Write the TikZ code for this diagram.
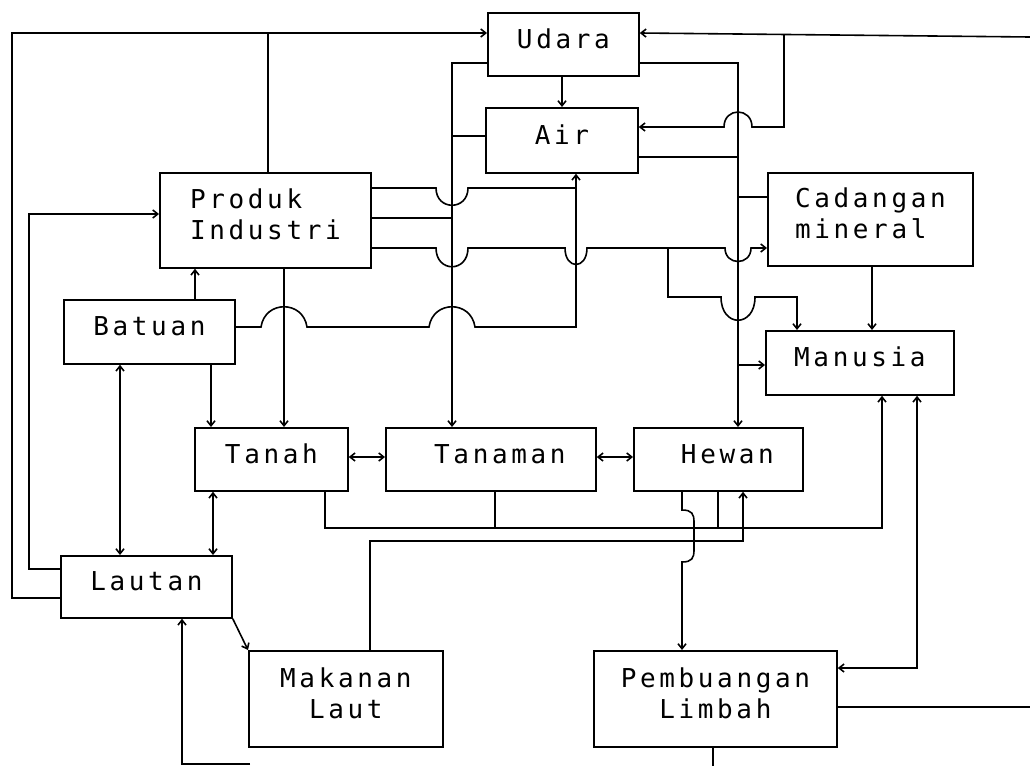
\documentclass[tikz,border=0pt]{standalone}
\usepackage{fontspec}
\usetikzlibrary{arrows.meta}
\newfontfamily\dm[LetterSpace=14]{DejaVu Sans Mono}
\begin{document}
\begin{tikzpicture}[x=1bp,y=-1bp,
  box/.style={draw,line width=1.8bp,anchor=north west,inner sep=0pt,
    font=\dm\fontsize{26bp}{31bp}\selectfont},
  one/.style={box,text height=19bp,text depth=11bp},
  two/.style={box,text depth=12bp},
  ln/.style={line width=1.6bp},
  arr/.style={ln,-{Straight Barb[length=5bp,width=8bp]}},
  darr/.style={ln,{Straight Barb[length=5bp,width=8bp]}-{Straight Barb[length=5bp,width=8bp]}}]
\useasboundingbox[fill=white] (0,0) rectangle (1030,766);
% boxes
\node[one,minimum width=151bp,minimum height=63bp] (udara) at (487,12) {Udara};
\node[one,minimum width=152bp,minimum height=65bp] (air) at (485,107) {Air};
\node[two,minimum width=211bp,minimum height=95bp,align=left] (produk) at (159,172) {Produk\\Industri};
\node[two,minimum width=205bp,minimum height=93bp,align=left] (cadangan) at (767,172) {Cadangan\\mineral};
\node[one,minimum width=171bp,minimum height=64bp] (batuan) at (63,299) {Batuan};
\node[one,minimum width=188bp,minimum height=64bp] (manusia) at (765,330) {Manusia};
\node[one,minimum width=153bp,minimum height=63bp] (tanah) at (194,427) {Tanah};
\node[one,minimum width=210bp,minimum height=63bp] (tanaman) at (385,427) {\hspace*{18bp}Tanaman};
\node[one,minimum width=169bp,minimum height=63bp] (hewan) at (633,427) {\hspace*{18bp}Hewan};
\node[one,minimum width=171bp,minimum height=62bp] (lautan) at (60,555) {Lautan};
\node[two,minimum width=194bp,minimum height=96bp,align=center] (makanan) at (248,650) {Makanan\\Laut};
\node[two,minimum width=243bp,minimum height=96bp,align=center] (pembuangan) at (593,650) {Pembuangan\\Limbah};
% junction coordinates
\coordinate (jtop) at (268,33);
\coordinate (jprod) at (668,248);
\coordinate (jbus) at (738,365);
\coordinate (jright) at (784,35);
\coordinate (edgeR1) at (1030,37);
\coordinate (edgeR2) at (1030,707);
\coordinate (edgeB) at (713,766);
\coordinate (edgeBL) at (250,764);
% Lautan -> Udara (outer loop)
\draw[arr] (lautan.west |- 0,598) -- (12,598) -- (12,33) -- (udara.west |- 0,33);
\draw[ln] (produk.north -| 268,0) -- (jtop);
% Lautan -> Produk Industri
\draw[arr] (lautan.west |- 0,569) -- (29,569) -- (29,214) -- (produk.west |- 0,214);
% Batuan -> Produk, Batuan -> Tanah, Produk -> Tanah
\draw[arr] (batuan.north -| 195,0) -- (produk.south -| 195,0);
\draw[arr] (batuan.south -| 211,0) -- (tanah.north -| 211,0);
\draw[arr] (produk.south -| 284,0) -- (tanah.north -| 284,0);
% Batuan <-> Lautan, Tanah <-> Lautan
\draw[darr] (batuan.south -| 120,0) -- (lautan.north -| 120,0);
\draw[darr] (tanah.south -| 213,0) -- (lautan.north -| 213,0);
% Tanah <-> Tanaman <-> Hewan
\draw[darr] (tanah.east |- 0,457) -- (tanaman.west |- 0,457);
\draw[darr] (tanaman.east |- 0,457) -- (hewan.west |- 0,457);
% Udara -> Air
\draw[arr] (udara.south -| 562,0) -- (air.north -| 562,0);
% Udara/Air/Produk -> Tanaman (bus x=452)
\draw[arr] (udara.west |- 0,63) -- (452,63) -- (tanaman.north -| 452,0);
\draw[ln] (air.west |- 0,136) -- (452,136);
\draw[ln] (produk.east |- 0,218) -- (452,218);
% Produk -> Air (dip over x=452)
\draw[ln] (produk.east |- 0,188) -- (436,188) .. controls (436,211) and (468,211) .. (468,188) -- (576,188);
% Batuan -> Air (humps)
\draw[arr] (batuan.east |- 0,327) -- (261,327) .. controls (265,300) and (303,300) .. (307,327)
  -- (429,327) .. controls (433,300) and (471,300) .. (475,327) -- (576,327) -- (air.south -| 576,0);
% Produk -> Cadangan mineral
\draw[arr] (produk.east |- 0,248) -- (436,248) .. controls (436,273) and (468,273) .. (468,248)
  -- (565,248) .. controls (565,270) and (587,270) .. (587,248)
  -- (725,248) .. controls (725,266) and (751,266) .. (751,248) -- (cadangan.west |- 0,248);
% Produk -> Manusia branch
\draw[arr] (jprod) -- (668,297) -- (721,297) .. controls (721,328) and (755,328) .. (755,297)
  -- (797,297) -- (manusia.north -| 797,0);
% bus x=738 : Udara, Air, Cadangan -> Hewan, Manusia
\draw[arr] (udara.east |- 0,63) -- (738,63) -- (hewan.north -| 738,0);
\draw[ln] (air.east |- 0,157) -- (738,157);
\draw[ln] (cadangan.west |- 0,197) -- (738,197);
\draw[arr] (jbus) -- (manusia.west |- 0,365);
% right edge -> Udara, branch -> Air
\draw[arr] (edgeR1) -- (udara.east |- 0,33);
\draw[arr] (jright) -- (784,127) -- (752,127) .. controls (752,107) and (724,107) .. (724,127) -- (air.east |- 0,127);
% Cadangan -> Manusia
\draw[arr] (cadangan.south -| 872,0) -- (manusia.north -| 872,0);
% Tanah, Tanaman, Hewan -> Manusia
\draw[arr] (tanah.south -| 325,0) -- (325,528) -- (882,528) -- (manusia.south -| 882,0);
\draw[ln] (tanaman.south -| 495,0) -- (495,528);
\draw[ln] (hewan.south -| 718,0) -- (718,528);
% Makanan Laut -> Hewan
\draw[arr] (makanan.north -| 370,0) -- (370,541) -- (743,541) -- (hewan.south -| 743,0);
% Hewan -> Pembuangan Limbah
\draw[arr] (hewan.south -| 682,0) -- (682,510) .. controls (692,510) and (694,514) .. (694,522)
  -- (694,550) .. controls (694,558) and (692,562) .. (682,562) -- (pembuangan.north -| 682,0);
% Manusia <-> Pembuangan
\draw[darr] (manusia.south -| 917,0) -- (917,668) -- (pembuangan.east |- 0,668);
% Pembuangan -> edges
\draw[ln] (pembuangan.east |- 0,707) -- (edgeR2);
\draw[ln] (pembuangan.south -| 713,0) -- (edgeB);
% bottom -> Lautan
\draw[arr] (edgeBL) -- (182,764) -- (lautan.south -| 182,0);
% Lautan -> Makanan Laut
\draw[arr] (lautan.south east) -- (makanan.north west);
\end{tikzpicture}
\end{document}
